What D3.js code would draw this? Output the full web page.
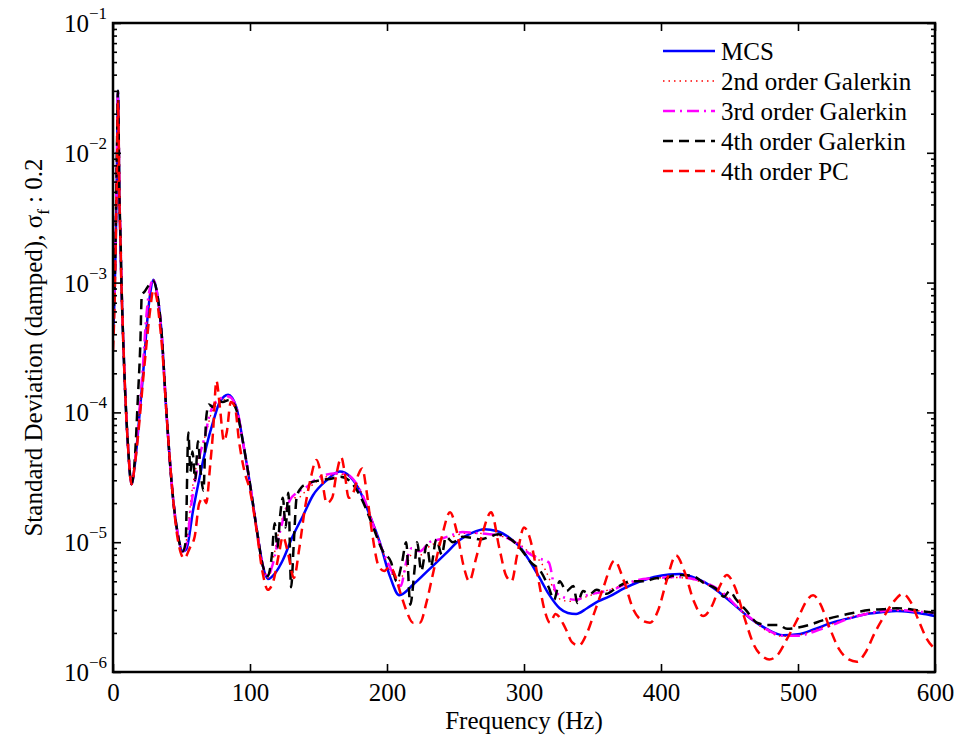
<!DOCTYPE html>
<html>
<head>
<meta charset="utf-8">
<script src="https://cdn.jsdelivr.net/npm/d3@7"></script>
<style>
  body { margin: 0; background: #fff; }
  svg { font-family: "Liberation Serif", "Times New Roman", serif; }
</style>
</head>
<body>
<div id="chart"></div>
<script>
// [frequency Hz, std deviation]
const mcs = [[0,4e-4],[1,7e-4],[2,2e-3],[3,1e-2],[3.6,3e-2],[4.2,1.2e-2],[4.6,5e-3],[5.5,2e-3],[6.1,1e-3],[7,5e-4],[8.5,1.8e-4],[11,5.4e-5],[13.5,2.8e-5],[16,4e-5],[19.5,1e-4],[22,2e-4],[24.4,4.3e-4],[27,8e-4],[29.5,1.05e-3],[32,8.5e-4],[35.3,4.3e-4],[39,1e-4],[43.8,2.2e-5],[47,1.2e-5],[51,8.5e-6],[53.5,8.8e-6],[58.4,1.75e-5],[63.3,3.2e-5],[68.2,5.5e-5],[73,8.4e-5],[77.9,1.2e-4],[84,1.37e-4],[90,1.1e-4],[95,5.8e-5],[99.8,2.9e-5],[104.7,1.3e-5],[109.5,6.5e-6],[113,5.2e-6],[119,5.9e-6],[124,7.3e-6],[131,1.1e-5],[138.7,1.6e-5],[146,2.3e-5],[156,3e-5],[165.5,3.5e-5],[173,3.2e-5],[180,2.5e-5],[187,1.65e-5],[194.7,1e-5],[202,5.5e-6],[209,3.9e-6],[219,4.7e-6],[231,6.2e-6],[243,8.2e-6],[253,1.04e-5],[262,1.18e-5],[271,1.26e-5],[280,1.22e-5],[290,1.07e-5],[297,9.2e-6],[304,7.2e-6],[311,5.4e-6],[318,4e-6],[326,3.1e-6],[332,2.85e-6],[338,2.8e-6],[346,3.1e-6],[354,3.5e-6],[362,3.8e-6],[373,4.4e-6],[384,4.96e-6],[395,5.4e-6],[406,5.65e-6],[414,5.7e-6],[423,5.4e-6],[432,4.9e-6],[440,4.3e-6],[452,3.4e-6],[465,2.6e-6],[477,2.15e-6],[489,1.92e-6],[500,1.95e-6],[513,2.16e-6],[525,2.4e-6],[538,2.6e-6],[550,2.8e-6],[562,2.9e-6],[572,2.95e-6],[582,2.9e-6],[592,2.8e-6],[600,2.7e-6]];

const gal2 = [[0,5e-4],[1,8e-4],[2,2.5e-3],[3,1.2e-2],[3.6,3e-2],[4.2,1.3e-2],[4.6,5.5e-3],[5.5,2.2e-3],[6.1,1.1e-3],[7,5e-4],[8.5,1.8e-4],[11,5.4e-5],[13.5,2.8e-5],[16,4.2e-5],[19.5,1.1e-4],[22,2.2e-4],[24.4,4.6e-4],[27,8.5e-4],[29.5,1.05e-3],[32,8.5e-4],[35.3,4.3e-4],[39,1e-4],[43.8,2.2e-5],[47,1.2e-5],[51,8.5e-6],[54,1.1e-5],[57,2.2e-5],[60,3.5e-5],[64,5e-5],[68,7e-5],[72,1e-4],[76,1.15e-4],[81,1.25e-4],[85,1.3e-4],[90,1.1e-4],[95,5.8e-5],[99.8,2.9e-5],[104.7,1.3e-5],[109.5,6.5e-6],[113,5.3e-6],[117,7.5e-6],[121,1.2e-5],[125,1.7e-5],[130,2.2e-5],[135,2.2e-5],[141,2.5e-5],[148,2.9e-5],[156,3.2e-5],[164,3.35e-5],[171,3.3e-5],[178,2.8e-5],[184,2.1e-5],[190,1.4e-5],[196,9e-6],[202,6.2e-6],[208,5e-6],[213,6e-6],[218,8e-6],[225,8e-6],[232,9.5e-6],[240,1e-5],[248,1.1e-5],[257,1.17e-5],[266,1.17e-5],[275,1.15e-5],[285,1.1e-5],[295,1e-5],[303,8.5e-6],[310,7.5e-6],[316,6e-6],[321,4.5e-6],[327,3.6e-6],[334,3.5e-6],[342,3.7e-6],[352,4e-6],[362,4.3e-6],[373,4.7e-6],[385,5.1e-6],[397,5.3e-6],[410,5.35e-6],[420,5.25e-6],[432,4.8e-6],[445,4e-6],[458,3e-6],[470,2.35e-6],[480,2e-6],[490,1.88e-6],[500,1.92e-6],[512,2.1e-6],[525,2.35e-6],[538,2.65e-6],[550,2.85e-6],[562,2.95e-6],[575,3e-6],[590,2.95e-6],[600,2.9e-6]];

const gal3 = [[0,5e-4],[1,8e-4],[2,2.5e-3],[3,1.2e-2],[3.6,3e-2],[4.2,1.3e-2],[4.6,5.5e-3],[5.5,2.2e-3],[6.1,1.1e-3],[7,5e-4],[8.5,1.8e-4],[11,5.4e-5],[13.5,2.8e-5],[16,4.2e-5],[19.5,1.1e-4],[22,2.4e-4],[24,5e-4],[26,8e-4],[29.5,1.05e-3],[32,8.5e-4],[35.3,4.3e-4],[39,1e-4],[43.8,2.2e-5],[47,1.2e-5],[51,8.5e-6],[54,1e-5],[57,1.9e-5],[60,3e-5],[63,4.5e-5],[67,6.5e-5],[71,1e-4],[75,1.2e-4],[80,1.3e-4],[84,1.33e-4],[90,1.1e-4],[95,5.8e-5],[99.8,2.9e-5],[104.7,1.3e-5],[109.5,6.5e-6],[113,5.5e-6],[117,7e-6],[121,1.1e-5],[125,1.6e-5],[129,2.1e-5],[134,2.4e-5],[140,2.6e-5],[147,3e-5],[155,3.3e-5],[163,3.4e-5],[170,3.35e-5],[177,2.9e-5],[183,2.2e-5],[190,1.35e-5],[196,9e-6],[202,6.5e-6],[207,5e-6],[210,4.6e-6],[214,7e-6],[218,9e-6],[224,8.5e-6],[231,1e-5],[238,1.05e-5],[246,1.12e-5],[255,1.2e-5],[264,1.18e-5],[272,1.16e-5],[282,1.13e-5],[292,1.02e-5],[299,9e-6],[305,8e-6],[311,7.5e-6],[318,7e-6],[323,4.2e-6],[328,3.8e-6],[338,3.6e-6],[346,3.9e-6],[355,4.1e-6],[365,4.3e-6],[375,4.8e-6],[387,5.2e-6],[398,5.3e-6],[410,5.4e-6],[420,5.3e-6],[432,4.9e-6],[445,4.1e-6],[458,3e-6],[470,2.4e-6],[480,2.05e-6],[490,1.9e-6],[500,1.9e-6],[512,2.05e-6],[525,2.3e-6],[538,2.6e-6],[550,2.8e-6],[562,2.95e-6],[575,3e-6],[590,2.9e-6],[600,2.85e-6]];

const gal4 = [[0,5e-4],[1,8e-4],[2,2.5e-3],[3,1.3e-2],[3.6,3e-2],[4.2,1.3e-2],[4.6,5.5e-3],[5.5,2.2e-3],[6.1,1.1e-3],[7,5e-4],[8.5,1.8e-4],[11,5.4e-5],[13.5,2.8e-5],[16,4.5e-5],[18,1.2e-4],[20,3.5e-4],[21,8e-4],[23,8.5e-4],[26,9.5e-4],[29.5,1.02e-3],[32,8.5e-4],[35.3,4.3e-4],[39,1e-4],[43.8,2.2e-5],[47,1.2e-5],[51,8.5e-6],[53,1e-5],[55,7e-5],[56.5,3.5e-5],[58,5e-5],[60,3e-5],[62,6e-5],[64,3.5e-5],[66,2.5e-5],[68,9e-5],[70,1.15e-4],[73,1.1e-4],[76,1.25e-4],[80,1.2e-4],[85,1.25e-4],[90,1.05e-4],[95,5.8e-5],[99.8,2.9e-5],[104.7,1.3e-5],[109.5,6.5e-6],[113,5.5e-6],[116,8e-6],[118,1.4e-5],[120,9e-6],[122,1.6e-5],[124,2.2e-5],[126,1.3e-5],[128,2.4e-5],[130,4.5e-6],[132,1e-5],[134,2.2e-5],[137,2.6e-5],[141,2.8e-5],[151,3e-5],[160,3.1e-5],[166,3.2e-5],[175,2.8e-5],[182,2.1e-5],[190,1.3e-5],[197,8.5e-6],[203,7e-6],[207,5e-6],[211,7e-6],[214,1e-5],[217,3.3e-6],[220,6e-6],[222,1e-5],[225,6e-6],[229,9.5e-6],[232,6.5e-6],[236,1.05e-5],[240,8e-6],[243,1.1e-5],[248,1e-5],[255,1.1e-5],[262,1.08e-5],[268,1.05e-5],[275,1.1e-5],[281,1.15e-5],[287,1.1e-5],[293,1e-5],[299,8.5e-6],[305,7e-6],[312,6e-6],[318,4.5e-6],[322,3.6e-6],[326,5e-6],[331,4.2e-6],[336,4.6e-6],[339,3.4e-6],[343,4.2e-6],[348,4e-6],[353,4.3e-6],[360,4e-6],[368,4.5e-6],[378,5e-6],[388,5e-6],[397,5.3e-6],[402,5.1e-6],[406,5.4e-6],[414,5.6e-6],[423,5.5e-6],[432,4.8e-6],[440,4.4e-6],[446,3.8e-6],[450,4.2e-6],[455,3.6e-6],[462,3e-6],[470,2.4e-6],[478,2.3e-6],[486,2.3e-6],[492,2.15e-6],[500,2.2e-6],[508,2.3e-6],[518,2.5e-6],[530,2.7e-6],[540,2.85e-6],[552,3e-6],[562,3.05e-6],[572,3.1e-6],[582,3.05e-6],[590,2.95e-6],[600,2.85e-6]];

const pc4 = [[0,3e-4],[1,6e-4],[2,2e-3],[3,9e-3],[3.6,2.5e-2],[4.2,1.2e-2],[4.6,5e-3],[5.5,2e-3],[6.1,1e-3],[7,5e-4],[8.5,1.8e-4],[11,5.4e-5],[13.5,2.8e-5],[16,4e-5],[19.5,9e-5],[22,1.8e-4],[24.4,3.3e-4],[27,6e-4],[29.5,8.8e-4],[32,7.5e-4],[34,5e-4],[36,3e-4],[39,1e-4],[43.8,2.2e-5],[47,1.1e-5],[52,7.5e-6],[56,9e-6],[59.6,1.1e-5],[63,2e-5],[66,2.2e-5],[68,2e-5],[71,4e-5],[73,7e-5],[75.5,1.75e-4],[78,1.1e-4],[81,6e-5],[83,7e-5],[86,1.2e-4],[89,1.1e-4],[92,6e-5],[96,3.5e-5],[100,2.5e-5],[105,1.2e-5],[109,6e-6],[113,4.3e-6],[117,5e-6],[121,8e-6],[124,1.1e-5],[128,8e-6],[132,5.3e-6],[136,9e-6],[140,1.8e-5],[144,3e-5],[148.5,4.3e-5],[152,3.3e-5],[156,2e-5],[160,2.2e-5],[163,3.3e-5],[166.7,4.5e-5],[169,3.5e-5],[172,2.2e-5],[176,2.5e-5],[179,3.3e-5],[182,3.7e-5],[185,2.5e-5],[189,1.2e-5],[194,6.5e-6],[198,6e-6],[202,6.5e-6],[206,5.5e-6],[210,4e-6],[214,3e-6],[219,2.4e-6],[224,2.4e-6],[229,3.5e-6],[234,6e-6],[240,1.1e-5],[246,1.7e-5],[251,1.2e-5],[256,6.5e-6],[260,5e-6],[265,7.5e-6],[270,1.2e-5],[276,1.7e-5],[282,9e-6],[287,5.5e-6],[291,5e-6],[295,8e-6],[300,1.3e-5],[304,1.1e-5],[310,5.5e-6],[315,3e-6],[319,2.4e-6],[323,2.8e-6],[330,2.2e-6],[335,1.7e-6],[340,1.6e-6],[346,2e-6],[352,3e-6],[358,4.5e-6],[366,7.2e-6],[373,5e-6],[380,3e-6],[386,2.5e-6],[392,2.4e-6],[398,3e-6],[404,5e-6],[411,7.9e-6],[417,6e-6],[424,3.5e-6],[430.7,2.7e-6],[437,3.2e-6],[443,4.6e-6],[448,5.6e-6],[454,4.5e-6],[461,2.6e-6],[468,1.6e-6],[475,1.3e-6],[479,1.25e-6],[485,1.35e-6],[492,1.8e-6],[500,2.6e-6],[506,3.5e-6],[511,3.9e-6],[516,3.4e-6],[523,2.2e-6],[530,1.5e-6],[537,1.25e-6],[543,1.2e-6],[549,1.4e-6],[556,2e-6],[563,2.7e-6],[570,3.5e-6],[576.5,4e-6],[582,3.5e-6],[588,2.5e-6],[594,1.8e-6],[600,1.5e-6]];

const labels = ["MCS", "2nd order Galerkin", "3rd order Galerkin", "4th order Galerkin", "4th order PC"];
const xTicks = [0, 100, 200, 300, 400, 500, 600];
const yExponents = [-6, -5, -4, -3, -2, -1];

const width = 974,
  height = 735,
  plot = { left: 113, right: 935, top: 23, bottom: 672 };

const styles = [
  { color: "#0000ff", width: 2.5, dash: null },
  { color: "#ff0000", width: 1.4, dash: "1.5,4" },
  { color: "#ff00ff", width: 2.5, dash: "12,5,2,5" },
  { color: "#000000", width: 2.5, dash: "10,6" },
  { color: "#ff0000", width: 2.5, dash: "10,6" }
];

const series = [mcs, gal2, gal3, gal4, pc4].map((values, i) => ({
  label: labels[i],
  values,
  style: styles[i]
}));

const x = d3.scaleLinear().domain([0, 600]).range([plot.left, plot.right]);
const y = d3.scaleLog().domain([1e-6, 1e-1]).range([plot.bottom, plot.top]);

const svg = d3
  .select("#chart")
  .append("svg")
  .attr("width", width)
  .attr("height", height);

svg
  .append("defs")
  .append("clipPath")
  .attr("id", "clip")
  .append("rect")
  .attr("x", plot.left)
  .attr("y", plot.top)
  .attr("width", plot.right - plot.left)
  .attr("height", plot.bottom - plot.top);

const line = d3
  .line()
  .curve(d3.curveMonotoneX)
  .x(d => x(d[0]))
  .y(d => y(d[1]));

svg
  .append("g")
  .attr("clip-path", "url(#clip)")
  .selectAll("path")
  .data(series)
  .enter()
  .append("path")
  .attr("d", d => line(d.values))
  .style("fill", "none")
  .style("stroke", d => d.style.color)
  .style("stroke-width", d => d.style.width)
  .style("stroke-dasharray", d => d.style.dash)
  .style("stroke-linejoin", "round");

// axes: ticks point inward on all four sides
const majorY = yExponents.map(e => Math.pow(10, e));
const minorY = [];
yExponents.slice(0, -1).forEach(e => {
  for (let m = 2; m <= 9; m++) minorY.push(m * Math.pow(10, e));
});

const tickStyle = g => {
  g.select(".domain").remove();
  g.selectAll("line").attr("stroke", "#000").attr("stroke-width", 1.6);
};

svg
  .append("g")
  .attr("transform", "translate(0," + plot.bottom + ")")
  .call(
    d3.axisBottom(x).tickValues(xTicks).tickSize(-8).tickPadding(11).tickFormat(d3.format("d"))
  )
  .call(tickStyle)
  .call(g =>
    g.selectAll("text")
      .attr("fill", "#000")
      .style("font-size", "25px")
      .style("font-family", "Liberation Serif, serif")
  );

svg
  .append("g")
  .attr("transform", "translate(0," + plot.top + ")")
  .call(d3.axisTop(x).tickValues(xTicks).tickSize(-8).tickFormat(""))
  .call(tickStyle);

[
  { axis: d3.axisLeft, pos: plot.left },
  { axis: d3.axisRight, pos: plot.right }
].forEach(side => {
  svg
    .append("g")
    .attr("transform", "translate(" + side.pos + ",0)")
    .call(side.axis(y).tickValues(majorY).tickSize(-8).tickFormat(""))
    .call(tickStyle);
  svg
    .append("g")
    .attr("transform", "translate(" + side.pos + ",0)")
    .call(side.axis(y).tickValues(minorY).tickSize(-4).tickFormat(""))
    .call(tickStyle);
});

const yLabels = svg
  .append("g")
  .selectAll("text")
  .data(yExponents)
  .enter()
  .append("text")
  .attr("x", plot.left - 6)
  .attr("y", d => y(Math.pow(10, d)) + 9)
  .attr("text-anchor", "end")
  .style("font-size", "25px");

yLabels.append("tspan").text("10");
yLabels
  .append("tspan")
  .attr("dy", -13)
  .style("font-size", "17px")
  .text(d => "\u2212" + Math.abs(d));

svg
  .append("rect")
  .attr("x", plot.left)
  .attr("y", plot.top)
  .attr("width", plot.right - plot.left)
  .attr("height", plot.bottom - plot.top)
  .style("fill", "none")
  .style("stroke", "#000")
  .style("stroke-width", 2.5);

svg
  .append("text")
  .attr("x", (plot.left + plot.right) / 2)
  .attr("y", 729)
  .attr("text-anchor", "middle")
  .style("font-size", "25px")
  .text("Frequency (Hz)");

const yTitle = svg
  .append("text")
  .attr("transform", "translate(42," + (plot.top + plot.bottom) / 2 + ") rotate(-90)")
  .attr("text-anchor", "middle")
  .style("font-size", "25px");
yTitle.append("tspan").text("Standard Deviation (damped), \u03c3");
yTitle.append("tspan").attr("dy", 7).style("font-size", "17px").text("f");
yTitle.append("tspan").attr("dy", -7).text(" : 0.2");

// legend
const legend = svg
  .append("g")
  .selectAll("g")
  .data(series)
  .enter()
  .append("g")
  .attr("transform", (d, i) => "translate(663," + (51 + i * 30) + ")");

legend
  .append("line")
  .attr("x1", 0)
  .attr("x2", 52)
  .style("stroke", d => d.style.color)
  .style("stroke-width", d => d.style.width)
  .style("stroke-dasharray", d => d.style.dash);

legend
  .append("text")
  .attr("x", 58)
  .attr("dy", "0.35em")
  .style("font-size", "25px")
  .text(d => d.label);
</script>
</body>
</html>
